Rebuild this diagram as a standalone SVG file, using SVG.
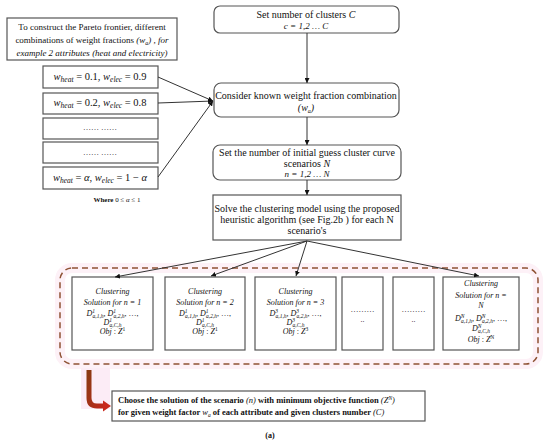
<svg xmlns="http://www.w3.org/2000/svg" width="550" height="447" viewBox="0 0 550 447" font-family="'Liberation Serif', 'Times New Roman', serif">
<defs>
<style>
text{font-family:'Liberation Serif','Times New Roman',serif;fill:#111;}
.box{fill:#fff;stroke:#555;stroke-width:1.2;}
.t10{font-size:10px;text-anchor:middle;}
.t9{font-size:9px;text-anchor:middle;}
.t8{font-size:8px;text-anchor:middle;}
.i{font-style:italic;}
.m{font-family:'Liberation Serif','Times New Roman',serif;font-style:italic;}
.sm{font-size:6px;}
.wt{font-size:10.5px;text-anchor:middle;font-style:italic;}
.ws{font-size:7.5px;}
.conn{stroke:#333;stroke-width:1;fill:none;}
</style>
<marker id="ah" viewBox="0 0 10 10" refX="10" refY="5" markerWidth="5" markerHeight="5" orient="auto">
<path d="M0,0 L10,5 L0,10 z" fill="#111"/>
</marker>
<linearGradient id="rg" x1="0" y1="0" x2="1" y2="1">
<stop offset="0" stop-color="#8a3a12"/>
<stop offset="1" stop-color="#c0281c"/>
</linearGradient>
</defs>
<rect width="550" height="447" fill="#fff"/>

<g id="group-frame">
<rect x="60" y="268" width="478" height="96" rx="12" fill="none" stroke="#fdf1f7" stroke-width="10"/>
<rect x="60" y="268" width="478" height="96" rx="12" fill="none" stroke="#8e5234" stroke-width="1.5" stroke-dasharray="6,4"/>
</g>

<g id="pareto-note">
<rect class="box" x="7" y="18" width="170" height="42"/>
<text class="t9" x="92" y="30">To construct the Pareto frontier, different</text>
<text class="t9" x="92" y="43">combinations of weight fractions <tspan class="m">(w</tspan><tspan class="m sm" dy="2">a</tspan><tspan class="m" dy="-2">)</tspan><tspan class="i"> , for</tspan></text>
<text class="t9 i" x="92" y="56">example 2 attributes (heat and electricity)</text>
</g>

<g id="set-clusters">
<rect class="box" x="214" y="6" width="185" height="27" rx="6"/>
<text class="t10" x="306" y="18">Set number of clusters <tspan class="i">C</tspan></text>
<text class="t9 i" x="306" y="29">c = 1,2 … C</text>
</g>

<g id="consider">
<rect class="box" x="214" y="83" width="185" height="34" rx="7"/>
<text class="t10" x="306" y="99">Consider known weight fraction combination</text>
<text class="t10 m" x="306" y="111">(w<tspan class="sm" dy="2">a</tspan><tspan dy="-2">)</tspan></text>
</g>

<g id="set-scenarios">
<rect class="box" x="213" y="145" width="188" height="35" rx="7"/>
<text class="t10" x="307" y="156">Set the number of initial guess cluster curve</text>
<text class="t10" x="307" y="167">scenarios <tspan class="i">N</tspan></text>
<text class="t9 i" x="307" y="177" fill="#333">n = 1,2 … N</text>
</g>

<g id="solve">
<rect class="box" x="213" y="195" width="188" height="45"/>
<text class="t10" x="307" y="212">Solve the clustering model using the proposed</text>
<text class="t10" x="307" y="223">heuristic algorithm (see Fig.2b ) for each N</text>
<text class="t10" x="307" y="234">scenario's</text>
</g>

<g id="weights">
<rect class="box" x="43" y="66" width="115" height="22"/>
<text class="wt" x="100" y="80">w<tspan class="ws" dy="2">heat</tspan><tspan dy="-2" font-style="normal"> = 0.1, </tspan>w<tspan class="ws" dy="2">elec</tspan><tspan dy="-2" font-style="normal"> = 0.9</tspan></text>
<rect class="box" x="43" y="93" width="115" height="21"/>
<text class="wt" x="100" y="106">w<tspan class="ws" dy="2">heat</tspan><tspan dy="-2" font-style="normal"> = 0.2, </tspan>w<tspan class="ws" dy="2">elec</tspan><tspan dy="-2" font-style="normal"> = 0.8</tspan></text>
<rect class="box" x="43" y="118" width="115" height="21"/>
<text class="t8" x="100" y="130">…… ……</text>
<rect class="box" x="43" y="142" width="115" height="21"/>
<text class="t8" x="100" y="155">…… ……</text>
<rect class="box" x="43" y="167" width="115" height="22"/>
<text class="wt" x="100" y="181">w<tspan class="ws" dy="2">heat</tspan><tspan dy="-2" font-style="normal"> = </tspan>α<tspan font-style="normal">, </tspan>w<tspan class="ws" dy="2">elec</tspan><tspan dy="-2" font-style="normal"> = 1 − </tspan>α</text>
<text x="117" y="202" font-size="7" text-anchor="middle"><tspan font-weight="bold">Where</tspan> 0 ≤ <tspan font-style="italic">α</tspan> ≤ 1</text>
</g>

<g id="sol-1">
<rect class="box" x="72" y="277" width="81" height="73"/>
<text class="t8 i" x="112.5" y="294">Clustering</text>
<text class="t8 i" x="112.5" y="305">Solution for n = 1</text>
<text class="t8 m" x="112.5" y="316" font-size="7.5">D<tspan font-size="5.5" dy="-3">1</tspan><tspan font-size="5.5" dx="-2.5" dy="5">a,1,h</tspan><tspan dy="-2">, D</tspan><tspan font-size="5.5" dy="-3">1</tspan><tspan font-size="5.5" dx="-2.5" dy="5">a,2,h</tspan><tspan dy="-2" font-style="normal">, …,</tspan></text>
<text class="t8 m" x="112.5" y="325" font-size="7.5">D<tspan font-size="5.5" dy="-3">1</tspan><tspan font-size="5.5" dx="-2.5" dy="5">a,C,h</tspan></text>
<text class="t8" x="112.5" y="334"><tspan class="i">Obj</tspan> : <tspan class="m">Z</tspan><tspan font-size="5.5" dy="-3">1</tspan></text>
</g>

<g id="sol-2">
<rect class="box" x="165" y="277" width="80" height="73"/>
<text class="t8 i" x="205" y="294">Clustering</text>
<text class="t8 i" x="205" y="305">Solution for n = 2</text>
<text class="t8 m" x="205" y="316" font-size="7.5">D<tspan font-size="5.5" dy="-3">1</tspan><tspan font-size="5.5" dx="-2.5" dy="5">a,1,h</tspan><tspan dy="-2">, D</tspan><tspan font-size="5.5" dy="-3">1</tspan><tspan font-size="5.5" dx="-2.5" dy="5">a,2,h</tspan><tspan dy="-2" font-style="normal">, …,</tspan></text>
<text class="t8 m" x="205" y="325" font-size="7.5">D<tspan font-size="5.5" dy="-3">1</tspan><tspan font-size="5.5" dx="-2.5" dy="5">a,C,h</tspan></text>
<text class="t8" x="205" y="334"><tspan class="i">Obj</tspan> : <tspan class="m">Z</tspan><tspan font-size="5.5" dy="-3">1</tspan></text>
</g>

<g id="sol-3">
<rect class="box" x="255" y="277" width="81" height="73"/>
<text class="t8 i" x="295.5" y="294">Clustering</text>
<text class="t8 i" x="295.5" y="305">Solution for n = 3</text>
<text class="t8 m" x="295.5" y="316" font-size="7.5">D<tspan font-size="5.5" dy="-3">3</tspan><tspan font-size="5.5" dx="-2.5" dy="5">a,1,h</tspan><tspan dy="-2">, D</tspan><tspan font-size="5.5" dy="-3">3</tspan><tspan font-size="5.5" dx="-2.5" dy="5">a,2,h</tspan><tspan dy="-2" font-style="normal">, …,</tspan></text>
<text class="t8 m" x="295.5" y="325" font-size="7.5">D<tspan font-size="5.5" dy="-3">3</tspan><tspan font-size="5.5" dx="-2.5" dy="5">a,C,h</tspan></text>
<text class="t8" x="295.5" y="334"><tspan class="i">Obj</tspan> : <tspan class="m">Z</tspan><tspan font-size="5.5" dy="-3">3</tspan></text>
</g>

<g id="sol-dots-1">
<rect class="box" x="342" y="277" width="41" height="73"/>
<text class="t8" x="362.5" y="312">………</text>
<text class="t8" x="362.5" y="322">..</text>
</g>

<g id="sol-dots-2">
<rect class="box" x="393" y="277" width="41" height="73"/>
<text class="t8" x="413.5" y="312">………</text>
<text class="t8" x="413.5" y="322">..</text>
</g>

<g id="sol-N">
<rect class="box" x="443" y="277" width="76" height="73"/>
<text class="t8 i" x="481" y="286">Clustering</text>
<text class="t8 i" x="481" y="298">Solution for n =</text>
<text class="t8 i" x="481" y="308">N</text>
<text class="t8 m" x="481" y="321" font-size="7.5">D<tspan font-size="5.5" dy="-3">N</tspan><tspan font-size="5.5" dx="-3.5" dy="5">a,1,h</tspan><tspan dy="-2">, D</tspan><tspan font-size="5.5" dy="-3">N</tspan><tspan font-size="5.5" dx="-3.5" dy="5">a,2,h</tspan><tspan dy="-2" font-style="normal">, …,</tspan></text>
<text class="t8 m" x="481" y="331" font-size="7.5">D<tspan font-size="5.5" dy="-3">N</tspan><tspan font-size="5.5" dx="-3.5" dy="5">a,C,h</tspan></text>
<text class="t8" x="481" y="342"><tspan class="i">Obj</tspan> : <tspan class="m">Z</tspan><tspan font-size="5.5" dy="-3">N</tspan></text>
</g>

<g id="choose">
<rect class="box" x="112" y="391" width="313" height="30"/>
<text x="118" y="403" font-size="8.5" font-weight="bold">Choose the solution of the scenario <tspan class="m" font-weight="normal">(n)</tspan> with minimum objective function <tspan class="m" font-weight="normal">(Z<tspan font-size="5.5" dy="-3">N</tspan><tspan dy="3">)</tspan></tspan></text>
<text x="118" y="415" font-size="8.5" font-weight="bold">for given weight factor <tspan class="m" font-weight="normal">w<tspan font-size="5.5" dy="2">a</tspan></tspan><tspan dy="-2"> of each attribute and given clusters number </tspan><tspan class="m" font-weight="normal">(C)</tspan></text>
</g>

<text x="270" y="438" font-size="8" font-weight="bold" text-anchor="middle">(a)</text>

<g id="connectors">
<line class="conn" x1="307" y1="33" x2="307" y2="83" marker-end="url(#ah)"/>
<line class="conn" x1="307" y1="117" x2="307" y2="145" marker-end="url(#ah)"/>
<line class="conn" x1="307" y1="180" x2="307" y2="195" marker-end="url(#ah)"/>
<line class="conn" x1="158" y1="77" x2="213" y2="101" marker-end="url(#ah)"/>
<line class="conn" x1="158" y1="103" x2="213" y2="101" marker-end="url(#ah)"/>
<line class="conn" x1="158" y1="177" x2="213" y2="101" marker-end="url(#ah)"/>
<line class="conn" x1="307" y1="241" x2="115" y2="277" marker-end="url(#ah)"/>
<line class="conn" x1="307" y1="241" x2="211" y2="276" marker-end="url(#ah)"/>
<line class="conn" x1="307" y1="241" x2="296" y2="276" marker-end="url(#ah)"/>
<line class="conn" x1="307" y1="241" x2="479" y2="276" marker-end="url(#ah)"/>
<rect x="81" y="368" width="29" height="41" fill="#fcecf6"/>
<path d="M89,370 L89,398 Q89,406 97,406 L104,406" fill="none" stroke="url(#rg)" stroke-width="5"/>
<polygon points="103,400.5 111,406 103,411.5" fill="#c8281c"/>
</g>
</svg>
